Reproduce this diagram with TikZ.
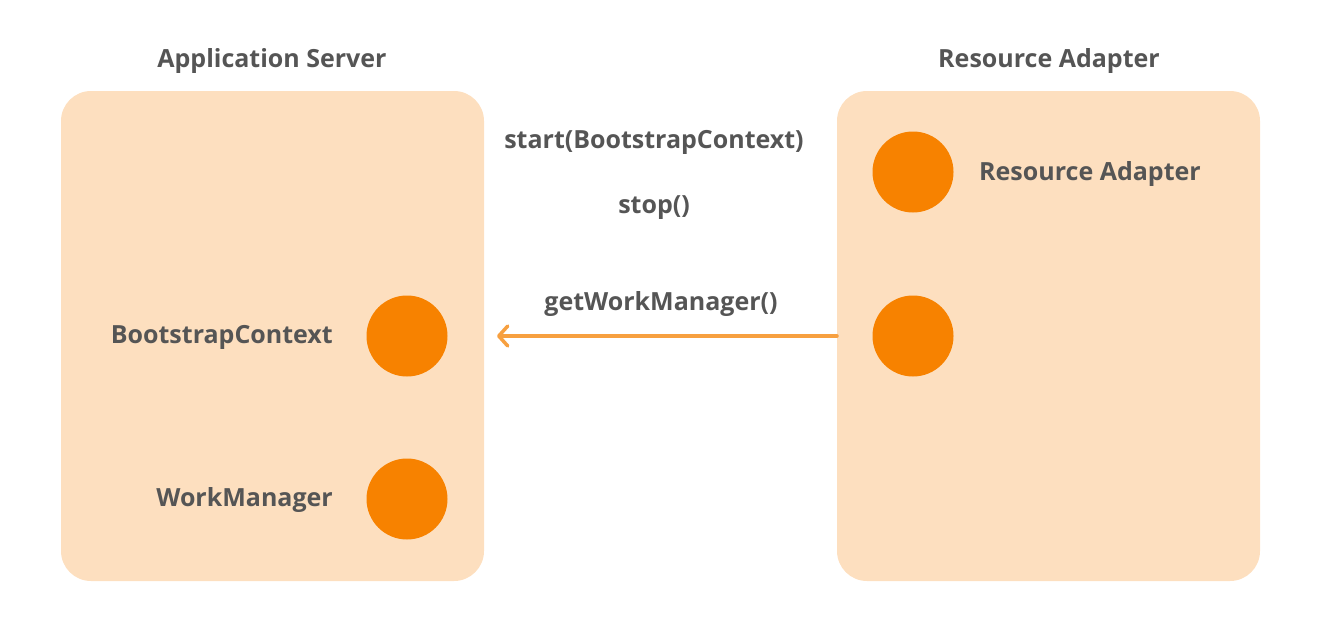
\documentclass[tikz,border=0pt]{standalone}
\usepackage{fontspec}
\setmainfont{Open Sans}
\usetikzlibrary{arrows.meta}
\definecolor{boxfill}{HTML}{FDDFBF}
\definecolor{dot}{HTML}{F78200}
\definecolor{txt}{HTML}{555555}
\definecolor{arr}{HTML}{F7A040}
\begin{document}
\begin{tikzpicture}[x=1pt,y=-1pt,
  panel/.style={fill=boxfill,rounded corners=30pt},
  dotnode/.style={circle,fill=dot,minimum size=81pt,inner sep=0pt},
  lbl/.style={text=txt,font=\fontsize{25}{28}\selectfont\bfseries,inner sep=0pt},
]
\useasboundingbox (0,0) rectangle (1321,634);
\fill[panel] (61,91) rectangle (484,581);
\fill[panel] (837,91) rectangle (1260,581);
\node[lbl] (ast) at (272,61) {Application Server};
\node[lbl] (rat) at (1049,61) {Resource Adapter};
\node[dotnode] (bc) at (407,336) {};
\node[dotnode] (wm) at (407,499) {};
\node[dotnode] (ra) at (913,172) {};
\node[dotnode] (ra2) at (913,336) {};
\node[lbl,anchor=east] (bcl) at (333,337) {BootstrapContext};
\node[lbl,anchor=east] (wml) at (333,500) {WorkManager};
\node[lbl,anchor=west] (ral) at (979,174) {Resource Adapter};
\node[lbl] (start) at (654,142) {start(BootstrapContext)};
\node[lbl] (stop) at (654,208) {stop()};
\node[lbl] (gwm) at (661,304) {getWorkManager()};
\coordinate (aend) at (497,336);
\coordinate (astart) at (837,336);
\draw[arr,line width=3.5pt,line cap=round,-{Straight Barb[length=9pt,width=20pt,round]}] (astart) -- (aend);
\end{tikzpicture}
\end{document}
